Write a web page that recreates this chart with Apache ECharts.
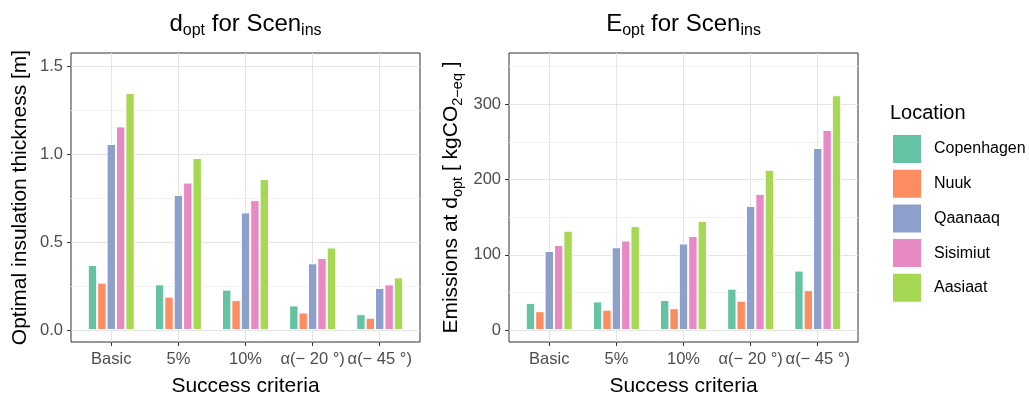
<!DOCTYPE html>
<html><head><meta charset="utf-8">
<script src="https://cdn.jsdelivr.net/npm/echarts@6/dist/echarts.min.js"></script>
<style>html,body{margin:0;padding:0;background:#fff}#c{width:1029px;height:397px}</style>
</head><body><div id="c"></div>
<script>
// ---------- data ----------
const categories = ['Basic', '5%', '10%', 'α(− 20 °)', 'α(− 45 °)'];
const locations = ['Copenhagen', 'Nuuk', 'Qaanaaq', 'Sisimiut', 'Aasiaat'];
const colors = ['#66C2A5', '#FC8D62', '#8DA0CB', '#E78AC3', '#A6D854'];

// optimal insulation thickness d_opt [m]
const dCopenhagen = [0.37, 0.26, 0.23, 0.14, 0.09];
const dNuuk       = [0.27, 0.19, 0.17, 0.10, 0.07];
const dQaanaaq    = [1.06, 0.77, 0.67, 0.38, 0.24];
const dSisimiut   = [1.16, 0.84, 0.74, 0.41, 0.26];
const dAasiaat    = [1.35, 0.98, 0.86, 0.47, 0.30];

// emissions at d_opt [kgCO2-eq]
const eCopenhagen = [36, 38, 40, 55, 79];
const eNuuk       = [25, 27, 29, 39, 53];
const eQaanaaq    = [105, 110, 115, 165, 242];
const eSisimiut   = [113, 119, 125, 181, 266];
const eAasiaat    = [132, 138, 145, 213, 312];

// ---------- layout / style ----------
const FONT = "'Liberation Sans', Arial, Helvetica, sans-serif";
const yTop = 53, yBot = 342, yZero = 330, yLine = 66.7;
const panelX = [[71, 420], [509, 858]];
const MAJOR = '#E4E4E4', MINOR = '#F1F1F1';

const panels = [
  {
    title: '{n|d}{s|opt}{n| for Scen}{s|ins}',
    yName: '{n|Optimal insulation thickness [m]}',
    series: [dCopenhagen, dNuuk, dQaanaaq, dSisimiut, dAasiaat],
    bgMax: 1.5, minorInt: 0.25, fgMax: 1.5, majorInt: 0.5,
    fmt: v => v.toFixed(1), nameGap: 37
  },
  {
    title: '{n|E}{s|opt}{n| for Scen}{s|ins}',
    yName: '{n|Emissions at d}{s|opt}{n| [ kgCO}{s|2−eq}{n| ]}',
    series: [eCopenhagen, eNuuk, eQaanaaq, eSisimiut, eAasiaat],
    bgMax: 350, minorInt: 50, fgMax: 300, majorInt: 100,
    fmt: v => String(v), nameGap: 44
  }
];

const titleRich = {
  n: { fontSize: 24, lineHeight: 30, fontFamily: FONT, color: '#000' },
  s: { fontSize: 16, lineHeight: 15, fontFamily: FONT, color: '#000', verticalAlign: 'bottom' }
};
const nameRich = {
  n: { fontSize: 21, lineHeight: 27, fontFamily: FONT, color: '#000' },
  s: { fontSize: 14.5, lineHeight: 13, fontFamily: FONT, color: '#000', verticalAlign: 'bottom' }
};

const grid = [], xAxis = [], yAxis = [], series = [], title = [];
const vSteps = Array.from({ length: 27 }, (_, i) => 'v' + i); // 0.2-unit scaffolding for vertical grid lines

panels.forEach((p, pi) => {
  const [x0, x1] = panelX[pi];
  const W = x1 - x0;
  const u = W / 5.2;               // width of one category band
  const base = pi * 3;
  const fgTop = yZero - (yZero - yLine) * p.fgMax / p.bgMax;

  // A: whole panel (border + vertical grid lines + axis titles)
  grid.push({ left: x0, top: yTop, width: W, height: yBot - yTop, show: true,
    borderColor: '#333', borderWidth: 1, backgroundColor: 'transparent', containLabel: false, outerBoundsMode: 'none' });
  // B: horizontal grid lines
  grid.push({ left: x0, top: yLine, width: W, height: yZero - yLine, containLabel: false, outerBoundsMode: 'none' });
  // C: bars, ticks, tick labels
  grid.push({ left: x0 + 0.1 * u, top: fgTop, width: 5 * u, height: yZero - fgTop, containLabel: false, outerBoundsMode: 'none' });

  xAxis.push({ gridIndex: base, type: 'category', data: vSteps, boundaryGap: false,
    axisLine: { show: false }, axisTick: { show: false }, axisLabel: { show: false },
    splitLine: { show: true, interval: i => i % 5 === 3, lineStyle: { color: MAJOR, width: 1 } },
    name: 'Success criteria', nameLocation: 'middle', nameGap: 34,
    nameTextStyle: { fontSize: 21, fontFamily: FONT, color: '#000' } });
  yAxis.push({ gridIndex: base, type: 'value', min: 0, max: 1,
    axisLine: { show: false }, axisTick: { show: false }, axisLabel: { show: false }, splitLine: { show: false },
    name: p.yName, nameLocation: 'middle', nameRotate: 90, nameGap: p.nameGap,
    nameTextStyle: { fontSize: 21, fontFamily: FONT, color: '#000', rich: nameRich } });

  xAxis.push({ gridIndex: base + 1, type: 'value', show: false, min: 0, max: 1 });
  yAxis.push({ gridIndex: base + 1, type: 'value', min: 0, max: p.bgMax, interval: p.minorInt,
    axisLine: { show: false }, axisTick: { show: false }, axisLabel: { show: false },
    splitLine: { show: true, lineStyle: { color: [MAJOR, MINOR], width: 1 } } });

  xAxis.push({ gridIndex: base + 2, type: 'category', data: categories, offset: yBot - yZero,
    axisLine: { show: false, onZero: false },
    axisTick: { show: true, alignWithLabel: true, length: 4, lineStyle: { color: '#333', width: 1 } },
    axisLabel: { interval: 0, margin: 9, fontSize: 16.5, fontFamily: FONT, color: '#4D4D4D' },
    splitLine: { show: false } });
  yAxis.push({ gridIndex: base + 2, type: 'value', min: 0, max: p.fgMax, interval: p.majorInt, offset: 0.1 * u,
    axisLine: { show: false },
    axisTick: { show: true, length: 4, lineStyle: { color: '#333', width: 1 } },
    axisLabel: { margin: 8, fontSize: 16.5, fontFamily: FONT, color: '#4D4D4D', formatter: p.fmt },
    splitLine: { show: false } });

  p.series.forEach((vals, si) => {
    series.push({ type: 'bar', name: locations[si], xAxisIndex: base + 2, yAxisIndex: base + 2,
      data: vals, barWidth: 0.14 * u, barGap: '0%', clip: false,
      itemStyle: { color: colors[si], borderColor: '#fff', borderWidth: 1 } });
  });

  title.push({ text: p.title, left: (x0 + x1) / 2, textAlign: 'center', top: 9, padding: 0,
    textStyle: { fontSize: 24, fontWeight: 'normal', fontFamily: FONT, color: '#000', rich: titleRich } });
});

title.push({ text: 'Location', left: 890, top: 103, padding: 0,
  textStyle: { fontSize: 20, fontWeight: 'normal', fontFamily: FONT, color: '#000' } });

const chart = echarts.init(document.getElementById('c'), null, { renderer: 'canvas' });
chart.setOption({
  animation: false,
  backgroundColor: '#fff',
  color: colors,
  title,
  legend: {
    data: locations, orient: 'vertical', left: 891, top: 133, padding: 0,
    itemWidth: 30, itemHeight: 30, itemGap: 2.7, icon: 'rect', selectedMode: false,
    textStyle: { fontSize: 16, fontFamily: FONT, color: '#000', padding: [0, 0, 0, 7] }
  },
  grid, xAxis, yAxis, series
});
</script>
</body></html>
